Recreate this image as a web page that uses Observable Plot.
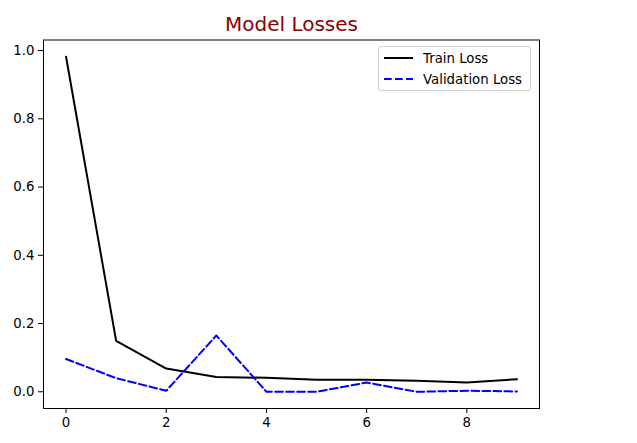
<!DOCTYPE html>
<html>
<head>
<meta charset="utf-8">
<script src="https://cdn.jsdelivr.net/npm/d3@7"></script>
<script src="https://cdn.jsdelivr.net/npm/@observablehq/plot@0.6"></script>
<style>
  html, body { margin: 0; padding: 0; background: #fff; }
  #wrap { position: relative; width: 637px; height: 443px; font-family: "DejaVu Sans", sans-serif; }
  #legend { position: absolute; left: 378px; top: 46px; width: 153px; height: 45px; box-sizing: border-box;
            border: 1px solid #d0d0d0; border-radius: 3px; background: rgba(255,255,255,0.8);
            font-size: 13.3px; color: #000; }
  .row { position: absolute; left: 5px; height: 16px; display: flex; align-items: center; }
  .row svg { margin-right: 10px; }
</style>
</head>
<body>
<div id="wrap"></div>
<script>
const epochs = [0, 1, 2, 3, 4, 5, 6, 7, 8, 9];
const trainLoss = [0.982, 0.149, 0.068, 0.043, 0.041, 0.035, 0.035, 0.032, 0.027, 0.037];
const valLoss = [0.096, 0.040, 0.003, 0.165, 0.000, 0.000, 0.027, 0.000, 0.003, 0.001];
const xTicks = [0, 2, 4, 6, 8];
const yTicks = [0.0, 0.2, 0.4, 0.6, 0.8, 1.0];
const seriesNames = ["Train Loss", "Validation Loss"];
const seriesColors = ["#000000", "#0000ff"];
const seriesDash = [null, "7.7,3.3"];
const titleText = "Model Losses";

const train = epochs.map((e, i) => ({epoch: e, loss: trainLoss[i]}));
const val = epochs.map((e, i) => ({epoch: e, loss: valLoss[i]}));

const plot = Plot.plot({
  width: 637,
  height: 443,
  marginLeft: 43,
  marginRight: 98,
  marginTop: 39.5,
  marginBottom: 35,
  style: {fontFamily: "DejaVu Sans, sans-serif", fontSize: "13.3px", color: "#000", background: "#fff"},
  x: {domain: [-0.45, 9.45], label: null},
  y: {domain: [-0.049, 1.031], label: null},
  marks: [
    Plot.frame({stroke: "#000", strokeWidth: 1}),
    Plot.axisX({ticks: xTicks, tickSize: 5, tickPadding: 4, tickFormat: d => String(d), fontSize: 13.3, stroke: "#000", strokeWidth: 1}),
    Plot.axisY({ticks: yTicks, tickSize: 5, tickPadding: 4, tickFormat: d => d.toFixed(1), fontSize: 13.3, stroke: "#000", strokeWidth: 1}),
    Plot.line(train, {x: "epoch", y: "loss", stroke: seriesColors[0], strokeWidth: 2}),
    Plot.line(val, {x: "epoch", y: "loss", stroke: seriesColors[1], strokeWidth: 2, strokeDasharray: seriesDash[1]}),
    Plot.text([titleText], {text: d => d, frameAnchor: "top", lineAnchor: "bottom", dy: -9, fontSize: 20, fill: "#8b0000"})
  ]
});
const wrap = document.getElementById("wrap");
wrap.appendChild(plot);

const legend = document.createElement("div");
legend.id = "legend";
seriesNames.forEach((name, i) => {
  const row = document.createElement("div");
  row.className = "row";
  row.style.top = (i === 0 ? 3 : 24) + "px";
  const dash = seriesDash[i] ? `stroke-dasharray="${seriesDash[i]}"` : "";
  row.innerHTML = `<svg width="29" height="6"><line x1="0" y1="3" x2="29" y2="3" stroke="${seriesColors[i]}" stroke-width="2" ${dash}/></svg><span>${name}</span>`;
  legend.appendChild(row);
});
wrap.appendChild(legend);
</script>
</body>
</html>
